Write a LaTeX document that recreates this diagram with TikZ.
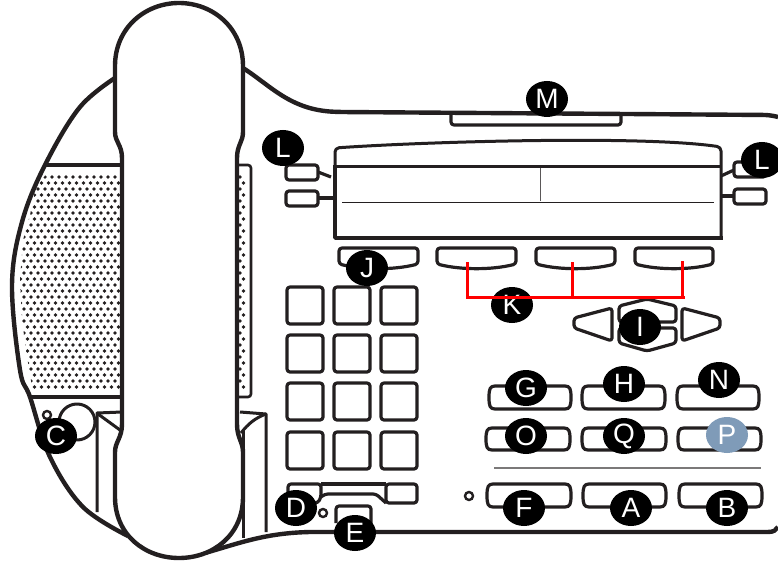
\documentclass[tikz,border=0pt]{standalone}
\usepackage{fontspec}
\setmainfont{Liberation Sans}
\definecolor{ink}{HTML}{231F20}
\definecolor{badgeblue}{HTML}{7F9BB8}
\tikzset{
  x=1pt,y=-1pt,
  body/.style={draw=ink,line width=4.4pt,line join=round},
  part/.style={draw=ink,line width=3.2pt,line join=round,rounded corners=3pt},
  thin/.style={draw=ink,line width=1pt},
  cradle/.style={draw=ink,line width=3pt,line join=round},
  badge/.style={ellipse,fill=black,text=white,minimum width=42pt,minimum height=36pt,inner sep=0pt,font=\fontsize{28}{28}\selectfont},
  redline/.style={draw=red,line width=3pt,line cap=butt,line join=miter},
}
\usetikzlibrary{shapes.geometric}
\newcommand{\softkey}[2]{\draw[part] (#1,248) -- (#2,248) -- (#2,264) .. controls ({(#1+#2)/2+15},270) and ({(#1+#2)/2-15},270) .. (#1,264) -- cycle;}
\newcommand{\barrel}[4]{\draw[draw=ink,line width=3.2pt,line join=round] ({#1+5},#3) -- ({#2-5},#3) .. controls ({#2},#3) and ({#2+1},{#3+3}) .. ({#2+1},{(#3+#4)/2}) .. controls ({#2+1},{#4-3}) and ({#2},#4) .. ({#2-5},#4) -- ({#1+5},#4) .. controls (#1,#4) and ({#1-1},{#4-3}) .. ({#1-1},{(#3+#4)/2}) .. controls ({#1-1},{#3+3}) and (#1,#3) .. ({#1+5},#3) -- cycle;}
\begin{document}
\begin{tikzpicture}
\useasboundingbox (0,0) rectangle (778,561);
\fill[white] (0,0) rectangle (778,561);
% case outline
\draw[body] plot[smooth,tension=0.6] coordinates {(118,76) (80,107) (45,165) (22,222) (12,285) (20,370) (30,397) (50,457) (83,507) (128,536)};
\draw[body,rounded corners=6pt] (243,68) .. controls (270,85) and (290,110) .. (340,112) -- (770,115) -- (778,117);
\draw[body] (205,553) .. controls (240,543) and (265,533) .. (310,532) -- (768,532) .. controls (774,532) and (776,530) .. (778,527);
% speaker
\draw[body] (45,165) -- (122,165);
\draw[body] (30,397) -- (122,397);
\begin{scope}
\clip (50,170) -- (36,186) -- (30,215) -- (23,240) -- (20,280) -- (22,320) -- (26,350) -- (30,375) -- (33,392) -- (122,392) -- (122,170) -- cycle;
\foreach \r in {0,...,35} {
  \pgfmathsetmacro{\yy}{177+6*\r}
  \pgfmathsetmacro{\xo}{mod(\r,2)==0 ? 115 : 118.5}
  \foreach \c in {0,...,14} {
    \fill[ink] ({\xo-7*\c},\yy) circle (1.9pt);
  }
}
\end{scope}
\draw[draw=ink,line width=2.6pt,rounded corners=3pt] (237,165) -- (251,165) -- (251,397) -- (237,397);
\foreach \r in {0,...,35} {
  \pgfmathsetmacro{\yy}{177+6*\r}
  \pgfmathsetmacro{\xo}{mod(\r,2)==0 ? 240 : 243.5}
  \fill[ink] (\xo,\yy) circle (1.9pt);
}
% cradle
\draw[cradle] (97,512) -- (97,413) -- (122,412);
\draw[cradle] (98,414) -- (120,430);
\draw[cradle] (243,430) -- (243,538);
\draw[cradle] (240,412) -- (266,414) -- (266,532);
\draw[cradle] (266,414) .. controls (255,418) and (248,424) .. (241,433);
\draw[cradle] (77,422) circle (18pt);
\draw[draw=ink,line width=2.4pt] (47,415) circle (4pt);
% handset
\draw[body,fill=white] (115,66) .. controls (115,28) and (145,3) .. (179,3) .. controls (213,3) and (243,28) .. (243,66) -- (243,132) .. controls (243,142) and (237,145) .. (237,158) -- (237,424) .. controls (237,438) and (243,442) .. (243,452) -- (243,497) .. controls (243,535) and (213,558) .. (179,558) .. controls (145,558) and (115,535) .. (115,497) -- (115,452) .. controls (115,442) and (122,438) .. (122,424) -- (122,158) .. controls (122,145) and (115,142) .. (115,132) -- cycle;
% M tab
\draw[part] (451,113) -- (451,125) -- (621,125) -- (621,113);
% display
\draw[body,line width=3pt,rounded corners=4pt] (335,167) -- (335,148) .. controls (420,142) and (640,135) .. (721,147) -- (721,236);
\draw[body,line width=3.4pt] (335,165) -- (335,238) -- (723,238);
\draw[body,line width=3pt] (335,167) -- (721,167);
\draw[thin] (342,203) -- (714,203);
\draw[draw=ink!75,line width=1pt] (540,168) -- (540,201);
% line buttons
\draw[part] (286,165) rectangle (318,180);
\draw[part] (286,191) rectangle (318,206);
\draw[part] (734,162) rectangle (766,177);
\draw[part] (734,189) rectangle (766,204);
\draw[part] (318,172) -- (331,177);
\draw[part] (318,198) -- (334,198);
\draw[part] (721,176) -- (734,170);
\draw[part] (721,196) -- (734,196);
% soft keys
\softkey{339}{418}
\softkey{437}{516}
\softkey{536}{615}
\softkey{635}{713}
% nav
\draw[part] (574,318) -- (612,308) -- (612,341) -- (574,328) -- cycle;
\draw[part] (682,308) -- (720,318) -- (720,328) -- (682,341) -- cycle;
\draw[part] (619,322) -- (619,306) -- (647,299) -- (676,306) -- (676,322) -- cycle;
\draw[part] (619,328) -- (619,343) -- (647,351) -- (676,343) -- (676,328) -- cycle;
% keypad
\foreach \yy in {287,335,383,432} \foreach \xx in {287,334,381} {
  \draw[part] (\xx,\yy) rectangle ({\xx+36},{\yy+37});
}
% slide bar
\draw[part] (321,490) -- (321,484) -- (288,484) -- (288,503) -- (318,503) -- (321,497) -- cycle;
\draw[part] (386,484) -- (417,484) -- (417,503) -- (386,503) -- cycle;
\draw[part] (321,484) -- (386,484);
\draw[part] (321,497) -- (325,494) -- (376,494) -- (386,503);
\draw[part] (336,523) -- (336,506) -- (371,506) -- (371,523);
\draw[draw=ink,line width=2.4pt] (323,513) circle (4pt);
\draw[draw=ink,line width=2.4pt] (469,496) circle (4pt);
% function keys
\barrel{490}{570}{386}{409}
\barrel{583}{664}{386}{409}
\barrel{678}{758}{386}{409}
\barrel{487}{569}{428}{450}
\barrel{583}{665}{428}{450}
\barrel{679}{760}{428}{450}
\barrel{488}{570}{484}{507}
\barrel{584}{665}{484}{507}
\barrel{680}{761}{484}{507}
\draw[draw=ink!60,line width=1.2pt] (494,468) -- (761,468);
% badges
\node[badge] (M) at (547,99) {M};
\node[badge] (L1) at (283,148) {L};
\node[badge] (L2) at (762,160) {L};
\node[badge] (J) at (367,268) {J};
\node[badge] (K) at (512,305) {K};
\node[badge] (I) at (640,327) {I};
\node[badge] (G) at (526,388) {G};
\node[badge] (H) at (624,384) {H};
\node[badge] (N) at (719,380) {N};
\node[badge] (O) at (526,436) {O};
\node[badge] (Q) at (624,436) {Q};
\node[badge,fill=badgeblue] (P) at (727,435) {P};
\node[badge] (D) at (296,508) {D};
\node[badge] (E) at (355,533) {E};
\node[badge] (F) at (524,508) {F};
\node[badge] (A) at (631,508) {A};
\node[badge] (B) at (727,508) {B};
\node[badge] (C) at (56,436) {C};
% red connectors
\coordinate (k1) at (467,262);
\coordinate (k2) at (572,262);
\coordinate (k3) at (682,261);
\coordinate (kr) at (685,297);
\coordinate (kl) at (467,297);
\draw[redline] (k1) -- (kl) -- (kr);
\draw[redline] (k2) -- (572,297);
\draw[redline] (k3) -- (682,297);
\end{tikzpicture}
\end{document}
